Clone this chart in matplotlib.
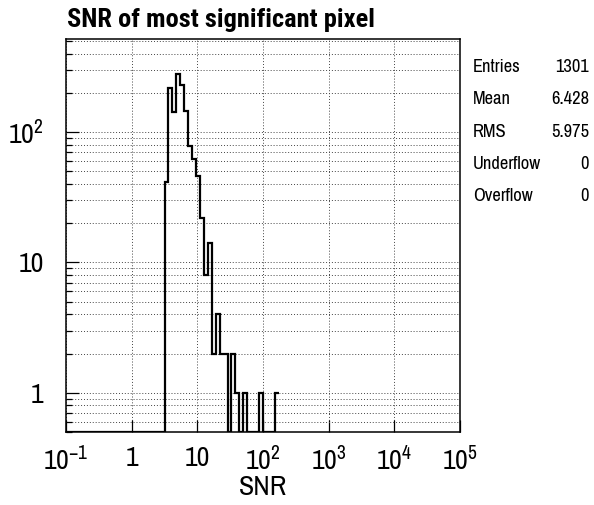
import numpy as np
import matplotlib
matplotlib.use("Agg")
import matplotlib.pyplot as plt
from matplotlib.ticker import LogLocator, FixedLocator, NullFormatter

FONT = ["Archivo Narrow", "Liberation Sans", "DejaVu Sans"]
TITLE_FONT = ["Roboto Condensed", "Liberation Sans", "DejaVu Sans"]
plt.rcParams.update({
    "font.family": FONT,
    "mathtext.fontset": "custom",
    "mathtext.rm": "Archivo Narrow",
    "mathtext.it": "Archivo Narrow",
    "mathtext.bf": "Archivo Narrow:bold",
})

# histogram: 100 log10 bins from 10^-1 to 10^5, non-empty part starts at bin 25
n_bins = 100
log_lo, log_hi = -1.0, 5.0
first_bin = 25
counts = [41, 216, 143, 280, 230, 145, 78, 62, 46, 22, 8, 14, 2, 4, 2, 2,
          0, 2, 1, 0, 1, 0, 0, 0, 1, 0, 0, 0, 1]

x_ticks = [0.1, 1, 10, 100, 1000, 1e4, 1e5]
x_labels = ["$10^{-1}$", "1", "10", "$10^{2}$", "$10^{3}$", "$10^{4}$", "$10^{5}$"]
y_ticks = [1, 10, 100]
y_labels = ["1", "10", "$10^{2}$"]

stats_names = ["Entries", "Mean", "RMS", "Underflow", "Overflow"]
stats_values = ["1301", "6.428", "5.975", "0", "0"]

ymin, ymax = 0.5, 517

edges = np.logspace(log_lo, log_hi, n_bins + 1)
full = np.zeros(n_bins)
full[first_bin:first_bin + len(counts)] = counts
last = first_bin + len(counts)
vals = np.where(full[:last] > 0, full[:last], ymin)

fig = plt.figure(figsize=(5.94, 5.05), dpi=100)
ax = fig.add_axes([66 / 594, 73 / 505, 394 / 594, 393 / 505])
ax.set_xscale("log")
ax.set_yscale("log")
ax.set_xlim(10 ** log_lo, 10 ** log_hi)
ax.set_ylim(ymin, ymax)

ax.stairs(vals, edges[:last + 1], baseline=None, color="black", lw=1.6, zorder=3)

# ROOT-like grid
grid_kw = dict(color="#444444", lw=0.7, linestyle=(0, (1, 2)), zorder=1)
ax.xaxis.set_major_locator(FixedLocator(x_ticks))
ax.xaxis.set_minor_locator(LogLocator(base=10, subs=np.arange(2, 10)))
ax.yaxis.set_major_locator(FixedLocator(y_ticks))
ax.yaxis.set_minor_locator(LogLocator(base=10, subs=np.arange(2, 10)))
ax.set_xticklabels(x_labels)
ax.set_yticklabels(y_labels)
ax.xaxis.set_minor_formatter(NullFormatter())
ax.yaxis.set_minor_formatter(NullFormatter())
ax.grid(True, which="major", axis="x", **grid_kw)
ax.grid(True, which="both", axis="y", **grid_kw)

ax.tick_params(which="both", direction="in", top=False, right=False, width=0.9)
ax.tick_params(which="major", length=9, labelsize=20)
ax.tick_params(which="minor", length=4.5)
ax.tick_params(axis="x", which="major", pad=10)
ax.tick_params(axis="y", which="major", pad=16)
for s in ax.spines.values():
    s.set_linewidth(1.1)

ax.set_xlabel("SNR", fontsize=20, labelpad=0)
fig.text(67 / 594, 1 - 20 / 505, "SNR of most significant pixel", fontsize=19,
         family=TITLE_FONT, fontweight="bold", ha="left", va="center")

# stats block to the right of the frame
for i, (nm, v) in enumerate(zip(stats_names, stats_values)):
    y = 1 - (67 + i * 32.3) / 505
    fig.text(473 / 594, y, nm, fontsize=13.3, ha="left", va="center")
    fig.text(589 / 594, y, v, fontsize=13.3, ha="right", va="center")

fig.savefig("out.png", dpi=100)
